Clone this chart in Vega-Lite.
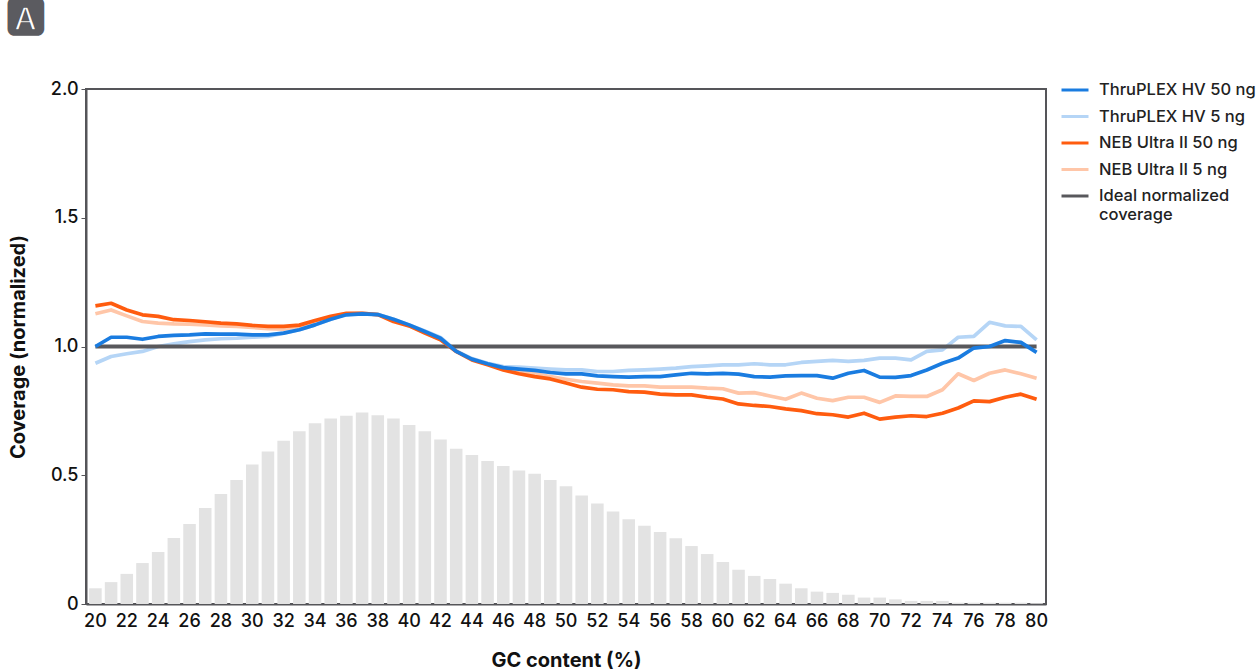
{
  "$schema": "https://vega.github.io/schema/vega-lite/v6.json",
  "width": 960,
  "height": 515,
  "autosize": {"type": "none"},
  "padding": {"left": 86, "top": 89, "right": 213, "bottom": 67},
  "background": "white",
  "title": {"text": "🅰", "anchor": "start", "frame": "group", "dx": -81, "offset": 36, "fontSize": 44, "font": "DejaVu Sans", "color": "#5b5b60"},
  "config": {
    "font": "Inter",
    "view": {"stroke": "#555559", "strokeWidth": 2},
    "axis": {"domainColor": "#555559", "domainWidth": 2, "tickColor": "#555559", "labelFont": "Inter", "labelFontSize": 18, "labelFontWeight": 500, "labelColor": "#111111", "titleFont": "Inter", "titleFontSize": 20, "titleFontWeight": "bold", "titleColor": "#111111", "grid": false},
    "legend": {"labelFont": "Inter", "labelFontSize": 16.5, "labelFontWeight": 500, "labelColor": "#222222"}
  },
  "datasets": {
    "gcdata": [
      {"gc": 20, "reads": 0.061, "hv50": 1.000, "hv5": 0.935, "neb50": 1.158, "neb5": 1.127, "ideal": 1},
      {"gc": 21, "reads": 0.085, "hv50": 1.036, "hv5": 0.961, "neb50": 1.168, "neb5": 1.142, "ideal": 1},
      {"gc": 22, "reads": 0.117, "hv50": 1.036, "hv5": 0.972, "neb50": 1.142, "neb5": 1.119, "ideal": 1},
      {"gc": 23, "reads": 0.159, "hv50": 1.028, "hv5": 0.981, "neb50": 1.123, "neb5": 1.097, "ideal": 1},
      {"gc": 24, "reads": 0.202, "hv50": 1.039, "hv5": 1.000, "neb50": 1.117, "neb5": 1.091, "ideal": 1},
      {"gc": 25, "reads": 0.256, "hv50": 1.043, "hv5": 1.010, "neb50": 1.104, "neb5": 1.088, "ideal": 1},
      {"gc": 26, "reads": 0.311, "hv50": 1.045, "hv5": 1.019, "neb50": 1.101, "neb5": 1.087, "ideal": 1},
      {"gc": 27, "reads": 0.373, "hv50": 1.049, "hv5": 1.026, "neb50": 1.096, "neb5": 1.084, "ideal": 1},
      {"gc": 28, "reads": 0.427, "hv50": 1.048, "hv5": 1.030, "neb50": 1.091, "neb5": 1.080, "ideal": 1},
      {"gc": 29, "reads": 0.482, "hv50": 1.048, "hv5": 1.032, "neb50": 1.088, "neb5": 1.078, "ideal": 1},
      {"gc": 30, "reads": 0.542, "hv50": 1.045, "hv5": 1.036, "neb50": 1.082, "neb5": 1.074, "ideal": 1},
      {"gc": 31, "reads": 0.592, "hv50": 1.045, "hv5": 1.039, "neb50": 1.078, "neb5": 1.069, "ideal": 1},
      {"gc": 32, "reads": 0.634, "hv50": 1.052, "hv5": 1.052, "neb50": 1.078, "neb5": 1.067, "ideal": 1},
      {"gc": 33, "reads": 0.671, "hv50": 1.065, "hv5": 1.065, "neb50": 1.083, "neb5": 1.078, "ideal": 1},
      {"gc": 34, "reads": 0.702, "hv50": 1.084, "hv5": 1.084, "neb50": 1.101, "neb5": 1.097, "ideal": 1},
      {"gc": 35, "reads": 0.720, "hv50": 1.106, "hv5": 1.106, "neb50": 1.117, "neb5": 1.114, "ideal": 1},
      {"gc": 36, "reads": 0.731, "hv50": 1.123, "hv5": 1.125, "neb50": 1.129, "neb5": 1.127, "ideal": 1},
      {"gc": 37, "reads": 0.744, "hv50": 1.127, "hv5": 1.129, "neb50": 1.129, "neb5": 1.129, "ideal": 1},
      {"gc": 38, "reads": 0.733, "hv50": 1.124, "hv5": 1.125, "neb50": 1.124, "neb5": 1.124, "ideal": 1},
      {"gc": 39, "reads": 0.720, "hv50": 1.106, "hv5": 1.106, "neb50": 1.097, "neb5": 1.104, "ideal": 1},
      {"gc": 40, "reads": 0.695, "hv50": 1.084, "hv5": 1.084, "neb50": 1.080, "neb5": 1.080, "ideal": 1},
      {"gc": 41, "reads": 0.671, "hv50": 1.058, "hv5": 1.060, "neb50": 1.052, "neb5": 1.055, "ideal": 1},
      {"gc": 42, "reads": 0.639, "hv50": 1.032, "hv5": 1.035, "neb50": 1.026, "neb5": 1.028, "ideal": 1},
      {"gc": 43, "reads": 0.603, "hv50": 0.981, "hv5": 0.983, "neb50": 0.981, "neb5": 0.981, "ideal": 1},
      {"gc": 44, "reads": 0.579, "hv50": 0.951, "hv5": 0.953, "neb50": 0.948, "neb5": 0.951, "ideal": 1},
      {"gc": 45, "reads": 0.555, "hv50": 0.933, "hv5": 0.935, "neb50": 0.929, "neb5": 0.931, "ideal": 1},
      {"gc": 46, "reads": 0.536, "hv50": 0.918, "hv5": 0.922, "neb50": 0.909, "neb5": 0.916, "ideal": 1},
      {"gc": 47, "reads": 0.518, "hv50": 0.912, "hv5": 0.920, "neb50": 0.894, "neb5": 0.903, "ideal": 1},
      {"gc": 48, "reads": 0.506, "hv50": 0.907, "hv5": 0.916, "neb50": 0.883, "neb5": 0.894, "ideal": 1},
      {"gc": 49, "reads": 0.482, "hv50": 0.899, "hv5": 0.912, "neb50": 0.874, "neb5": 0.883, "ideal": 1},
      {"gc": 50, "reads": 0.457, "hv50": 0.894, "hv5": 0.909, "neb50": 0.858, "neb5": 0.873, "ideal": 1},
      {"gc": 51, "reads": 0.421, "hv50": 0.894, "hv5": 0.909, "neb50": 0.842, "neb5": 0.864, "ideal": 1},
      {"gc": 52, "reads": 0.390, "hv50": 0.886, "hv5": 0.903, "neb50": 0.834, "neb5": 0.858, "ideal": 1},
      {"gc": 53, "reads": 0.359, "hv50": 0.883, "hv5": 0.903, "neb50": 0.832, "neb5": 0.851, "ideal": 1},
      {"gc": 54, "reads": 0.329, "hv50": 0.881, "hv5": 0.907, "neb50": 0.825, "neb5": 0.847, "ideal": 1},
      {"gc": 55, "reads": 0.304, "hv50": 0.883, "hv5": 0.909, "neb50": 0.823, "neb5": 0.847, "ideal": 1},
      {"gc": 56, "reads": 0.280, "hv50": 0.883, "hv5": 0.912, "neb50": 0.815, "neb5": 0.842, "ideal": 1},
      {"gc": 57, "reads": 0.255, "hv50": 0.890, "hv5": 0.916, "neb50": 0.812, "neb5": 0.842, "ideal": 1},
      {"gc": 58, "reads": 0.225, "hv50": 0.896, "hv5": 0.922, "neb50": 0.812, "neb5": 0.842, "ideal": 1},
      {"gc": 59, "reads": 0.194, "hv50": 0.894, "hv5": 0.925, "neb50": 0.803, "neb5": 0.838, "ideal": 1},
      {"gc": 60, "reads": 0.163, "hv50": 0.896, "hv5": 0.929, "neb50": 0.796, "neb5": 0.836, "ideal": 1},
      {"gc": 61, "reads": 0.133, "hv50": 0.893, "hv5": 0.929, "neb50": 0.777, "neb5": 0.819, "ideal": 1},
      {"gc": 62, "reads": 0.109, "hv50": 0.883, "hv5": 0.933, "neb50": 0.771, "neb5": 0.821, "ideal": 1},
      {"gc": 63, "reads": 0.097, "hv50": 0.881, "hv5": 0.929, "neb50": 0.767, "neb5": 0.808, "ideal": 1},
      {"gc": 64, "reads": 0.079, "hv50": 0.886, "hv5": 0.929, "neb50": 0.758, "neb5": 0.795, "ideal": 1},
      {"gc": 65, "reads": 0.061, "hv50": 0.887, "hv5": 0.938, "neb50": 0.751, "neb5": 0.819, "ideal": 1},
      {"gc": 66, "reads": 0.048, "hv50": 0.887, "hv5": 0.942, "neb50": 0.739, "neb5": 0.799, "ideal": 1},
      {"gc": 67, "reads": 0.043, "hv50": 0.877, "hv5": 0.946, "neb50": 0.735, "neb5": 0.790, "ideal": 1},
      {"gc": 68, "reads": 0.036, "hv50": 0.896, "hv5": 0.942, "neb50": 0.726, "neb5": 0.803, "ideal": 1},
      {"gc": 69, "reads": 0.025, "hv50": 0.907, "hv5": 0.946, "neb50": 0.741, "neb5": 0.803, "ideal": 1},
      {"gc": 70, "reads": 0.025, "hv50": 0.881, "hv5": 0.955, "neb50": 0.718, "neb5": 0.783, "ideal": 1},
      {"gc": 71, "reads": 0.018, "hv50": 0.880, "hv5": 0.955, "neb50": 0.726, "neb5": 0.808, "ideal": 1},
      {"gc": 72, "reads": 0.012, "hv50": 0.887, "hv5": 0.948, "neb50": 0.731, "neb5": 0.806, "ideal": 1},
      {"gc": 73, "reads": 0.012, "hv50": 0.909, "hv5": 0.981, "neb50": 0.728, "neb5": 0.806, "ideal": 1},
      {"gc": 74, "reads": 0.012, "hv50": 0.935, "hv5": 0.987, "neb50": 0.741, "neb5": 0.832, "ideal": 1},
      {"gc": 75, "reads": 0.005, "hv50": 0.955, "hv5": 1.036, "neb50": 0.761, "neb5": 0.894, "ideal": 1},
      {"gc": 76, "reads": 0.005, "hv50": 0.994, "hv5": 1.039, "neb50": 0.789, "neb5": 0.868, "ideal": 1},
      {"gc": 77, "reads": 0.005, "hv50": 1.000, "hv5": 1.094, "neb50": 0.786, "neb5": 0.896, "ideal": 1},
      {"gc": 78, "reads": 0.005, "hv50": 1.023, "hv5": 1.080, "neb50": 0.803, "neb5": 0.909, "ideal": 1},
      {"gc": 79, "reads": 0.005, "hv50": 1.016, "hv5": 1.078, "neb50": 0.815, "neb5": 0.894, "ideal": 1},
      {"gc": 80, "reads": 0.003, "hv50": 0.977, "hv5": 1.026, "neb50": 0.795, "neb5": 0.877, "ideal": 1}
    ]
  },
  "data": {"name": "gcdata"},
  "encoding": {
    "x": {
      "field": "gc", "type": "ordinal",
      "scale": {"paddingInner": 0.2, "paddingOuter": 0.2},
      "axis": {"title": "GC content (%)", "values": [20,22,24,26,28,30,32,34,36,38,40,42,44,46,48,50,52,54,56,58,60,62,64,66,68,70,72,74,76,78,80], "labelAngle": 0, "ticks": false, "labelPadding": 8, "titlePadding": 20}
    },
    "y": {
      "field": "cov", "type": "quantitative",
      "scale": {"domain": [0, 2], "nice": false, "zero": true},
      "axis": {"title": "Coverage (normalized)", "values": [0, 0.5, 1, 1.5, 2], "labelExpr": "datum.value == 0 ? '0' : format(datum.value, '.1f')", "tickSize": 5, "labelPadding": 3, "titlePadding": 22}
    }
  },
  "layer": [
    {
      "transform": [{"fold": ["reads"], "as": ["series", "cov"]}],
      "mark": {"type": "bar", "color": "#e3e3e3"}
    },
    {
      "transform": [{"fold": ["neb5"], "as": ["series", "cov"]}],
      "mark": {"type": "line", "strokeWidth": 3.7, "strokeJoin": "round"},
      "encoding": {"color": {"field": "series", "type": "nominal", "scale": {"domain": ["hv50", "hv5", "neb50", "neb5", "ideal"], "range": ["#1a7ce0", "#b5d5f6", "#ff5c0f", "#ffc6a8", "#58585c"]}, "legend": {"title": null, "orient": "none", "legendX": 974, "legendY": -14, "symbolType": "stroke", "symbolSize": 729, "symbolStrokeWidth": 3, "labelOffset": 9, "rowPadding": 2.5, "padding": 0, "labelExpr": "{'hv50': 'ThruPLEX HV 50 ng', 'hv5': 'ThruPLEX HV 5 ng', 'neb50': 'NEB Ultra II 50 ng', 'neb5': 'NEB Ultra II 5 ng', 'ideal': ['Ideal normalized', 'coverage']}[datum.value]"}}}
    },
    {
      "transform": [{"fold": ["hv5"], "as": ["series", "cov"]}],
      "mark": {"type": "line", "strokeWidth": 3.7, "strokeJoin": "round"},
      "encoding": {"color": {"field": "series", "type": "nominal"}}
    },
    {
      "transform": [{"fold": ["ideal"], "as": ["series", "cov"]}],
      "mark": {"type": "line", "strokeWidth": 4},
      "encoding": {"color": {"field": "series", "type": "nominal"}}
    },
    {
      "transform": [{"fold": ["neb50"], "as": ["series", "cov"]}],
      "mark": {"type": "line", "strokeWidth": 3.7, "strokeJoin": "round"},
      "encoding": {"color": {"field": "series", "type": "nominal"}}
    },
    {
      "transform": [{"fold": ["hv50"], "as": ["series", "cov"]}],
      "mark": {"type": "line", "strokeWidth": 3.7, "strokeJoin": "round"},
      "encoding": {"color": {"field": "series", "type": "nominal"}}
    }
  ]
}
